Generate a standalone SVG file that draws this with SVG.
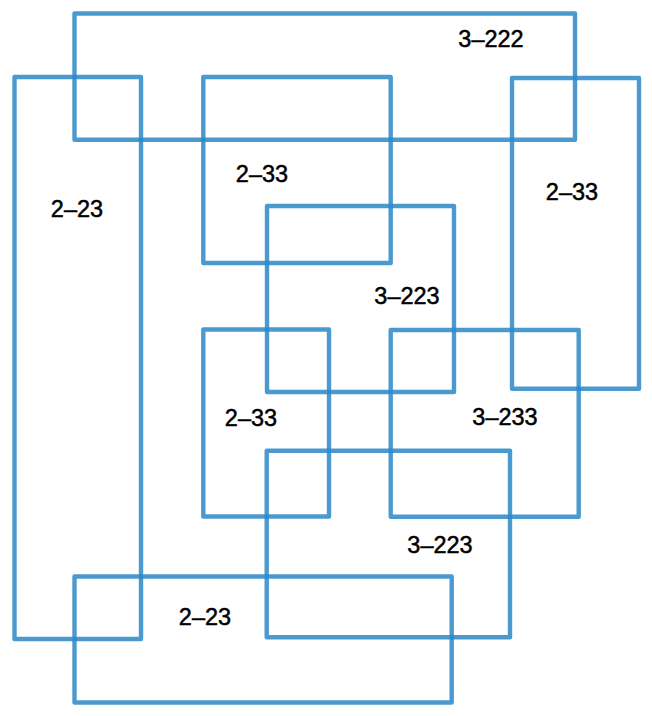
<svg xmlns="http://www.w3.org/2000/svg" width="652" height="716" viewBox="0 0 652 716">
<style>
.r{fill:none;stroke:#2a88c8;stroke-opacity:0.85;stroke-width:4.4;stroke-linejoin:round}
.t{font-family:"Liberation Sans",Arial,sans-serif;font-size:23.5px;fill:#000;stroke:#000;stroke-width:0.5;text-anchor:middle}
</style>
<rect width="652" height="716" fill="#fff"/>
<g id="n1"><rect class="r" x="74.5" y="13.5" width="500.5" height="126.2"/><text class="t" x="491" y="46.5">3–222</text></g>
<g id="n2"><rect class="r" x="14.5" y="77" width="126.5" height="562"/><text class="t" x="77" y="217">2–23</text></g>
<g id="n3"><rect class="r" x="203.3" y="77" width="187.4" height="186"/><text class="t" x="262" y="181.5">2–33</text></g>
<g id="n4"><rect class="r" x="512" y="78" width="127" height="310.7"/><text class="t" x="572" y="199.5">2–33</text></g>
<g id="n5"><rect class="r" x="267" y="206" width="187" height="186"/><text class="t" x="407" y="304">3–223</text></g>
<g id="n6"><rect class="r" x="203.3" y="329.5" width="125.7" height="187"/><text class="t" x="251" y="425.5">2–33</text></g>
<g id="n7"><rect class="r" x="390.7" y="330" width="188" height="186.7"/><text class="t" x="505" y="425">3–233</text></g>
<g id="n8"><rect class="r" x="266.7" y="450.7" width="243.3" height="186.6"/><text class="t" x="440" y="552.5">3–223</text></g>
<g id="n9"><rect class="r" x="74.5" y="576.5" width="377.2" height="126"/><text class="t" x="205" y="625">2–23</text></g>
<g id="connectors"></g>
</svg>
